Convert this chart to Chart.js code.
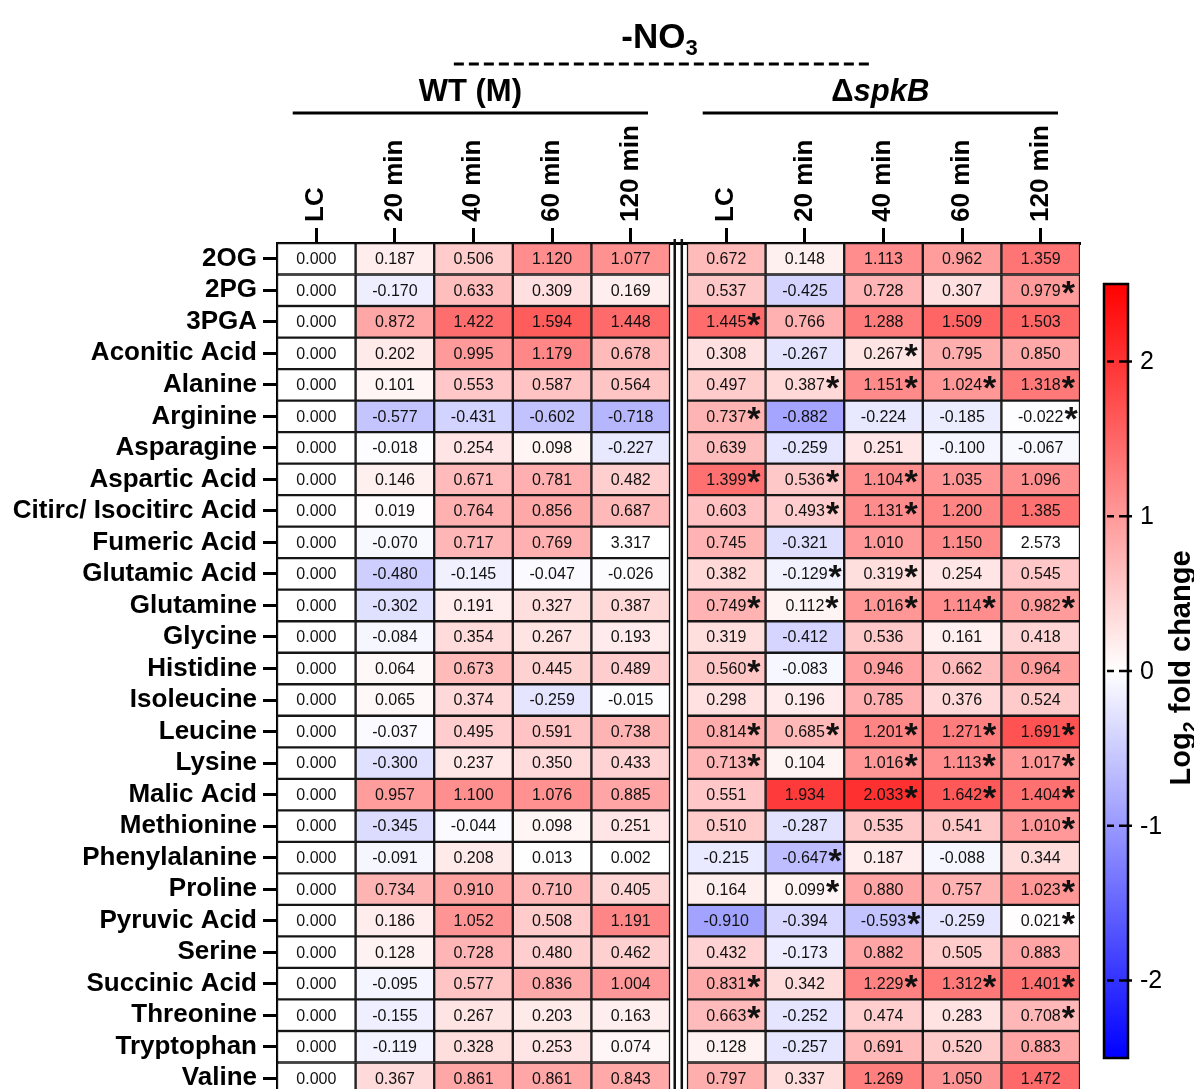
<!DOCTYPE html>
<html>
<head>
<meta charset="utf-8">
<title>-NO3 metabolite heatmap</title>
<script src="https://cdn.jsdelivr.net/npm/chart.js@4.4.1/dist/chart.umd.min.js"></script>
<style>
  html, body { margin: 0; padding: 0; background: #fff; overflow: hidden; }
  #wrap { position: relative; width: 1194px; height: 1100px; }
</style>
</head>
<body>
<div id="wrap"><canvas id="heat"></canvas></div>
<script>
/* rows (metabolites) and column headers */
const METABOLITES = [
  "2OG", "2PG", "3PGA", "Aconitic Acid", "Alanine", "Arginine", "Asparagine",
  "Aspartic Acid", "Citirc/ Isocitirc Acid", "Fumeric Acid", "Glutamic Acid",
  "Glutamine", "Glycine", "Histidine", "Isoleucine", "Leucine", "Lysine",
  "Malic Acid", "Methionine", "Phenylalanine", "Proline", "Pyruvic Acid",
  "Serine", "Succinic Acid", "Threonine", "Tryptophan", "Valine"
];
const COLUMNS = ["LC", "20 min", "40 min", "60 min", "120 min"];

/* log2 fold change, WT (M) */
const WT_LC  = [0.000, 0.000, 0.000, 0.000, 0.000, 0.000, 0.000, 0.000, 0.000, 0.000, 0.000, 0.000, 0.000, 0.000, 0.000, 0.000, 0.000, 0.000, 0.000, 0.000, 0.000, 0.000, 0.000, 0.000, 0.000, 0.000, 0.000];
const WT_20  = [0.187, -0.170, 0.872, 0.202, 0.101, -0.577, -0.018, 0.146, 0.019, -0.070, -0.480, -0.302, -0.084, 0.064, 0.065, -0.037, -0.300, 0.957, -0.345, -0.091, 0.734, 0.186, 0.128, -0.095, -0.155, -0.119, 0.367];
const WT_40  = [0.506, 0.633, 1.422, 0.995, 0.553, -0.431, 0.254, 0.671, 0.764, 0.717, -0.145, 0.191, 0.354, 0.673, 0.374, 0.495, 0.237, 1.100, -0.044, 0.208, 0.910, 1.052, 0.728, 0.577, 0.267, 0.328, 0.861];
const WT_60  = [1.120, 0.309, 1.594, 1.179, 0.587, -0.602, 0.098, 0.781, 0.856, 0.769, -0.047, 0.327, 0.267, 0.445, -0.259, 0.591, 0.350, 1.076, 0.098, 0.013, 0.710, 0.508, 0.480, 0.836, 0.203, 0.253, 0.861];
const WT_120 = [1.077, 0.169, 1.448, 0.678, 0.564, -0.718, -0.227, 0.482, 0.687, 3.317, -0.026, 0.387, 0.193, 0.489, -0.015, 0.738, 0.433, 0.885, 0.251, 0.002, 0.405, 1.191, 0.462, 1.004, 0.163, 0.074, 0.843];

/* log2 fold change, spkB deletion */
const KO_LC  = [0.672, 0.537, 1.445, 0.308, 0.497, 0.737, 0.639, 1.399, 0.603, 0.745, 0.382, 0.749, 0.319, 0.560, 0.298, 0.814, 0.713, 0.551, 0.510, -0.215, 0.164, -0.910, 0.432, 0.831, 0.663, 0.128, 0.797];
const KO_20  = [0.148, -0.425, 0.766, -0.267, 0.387, -0.882, -0.259, 0.536, 0.493, -0.321, -0.129, 0.112, -0.412, -0.083, 0.196, 0.685, 0.104, 1.934, -0.287, -0.647, 0.099, -0.394, -0.173, 0.342, -0.252, -0.257, 0.337];
const KO_40  = [1.113, 0.728, 1.288, 0.267, 1.151, -0.224, 0.251, 1.104, 1.131, 1.010, 0.319, 1.016, 0.536, 0.946, 0.785, 1.201, 1.016, 2.033, 0.535, 0.187, 0.880, -0.593, 0.882, 1.229, 0.474, 0.691, 1.269];
const KO_60  = [0.962, 0.307, 1.509, 0.795, 1.024, -0.185, -0.100, 1.035, 1.200, 1.150, 0.254, 1.114, 0.161, 0.662, 0.376, 1.271, 1.113, 1.642, 0.541, -0.088, 0.757, -0.259, 0.505, 1.312, 0.283, 0.520, 1.050];
const KO_120 = [1.359, 0.979, 1.503, 0.850, 1.318, -0.022, -0.067, 1.096, 1.385, 2.573, 0.545, 0.982, 0.418, 0.964, 0.524, 1.691, 1.017, 1.404, 1.010, 0.344, 1.023, 0.021, 0.883, 1.401, 0.708, 0.883, 1.472];

/* significance marks (1 = asterisk) for the spkB columns */
const SIG_LC  = [0,0,1,0,0,1,0,1,0,0,0,1,0,1,0,1,1,0,0,0,0,0,0,1,1,0,0];
const SIG_20  = [0,0,0,0,1,0,0,1,1,0,1,1,0,0,0,1,0,0,0,1,1,0,0,0,0,0,0];
const SIG_40  = [0,0,0,1,1,0,0,1,1,0,1,1,0,0,0,1,1,1,0,0,0,1,0,1,0,0,0];
const SIG_60  = [0,0,0,0,1,0,0,0,0,0,0,1,0,0,0,1,1,1,0,0,0,0,0,1,0,0,0];
const SIG_120 = [0,1,0,0,1,1,0,0,0,0,0,1,0,0,0,1,1,1,1,0,1,1,0,1,1,0,0];

/* colour scale limits and colour bar ticks */
const RANGE = 2.5;
const CB_TICKS = [2, 1, 0, -1, -2];

const FONT = '"Liberation Sans", Arial, Helvetica, sans-serif';
const GAP = 0.216;   // space between the two blocks, in column units

const BLOCKS = [
  { title: [{ t: "WT (M)" }], offset: 0,
    series: [WT_LC, WT_20, WT_40, WT_60, WT_120], stars: null },
  { title: [{ t: "\u0394" }, { t: "spkB", italic: true }], offset: 5 + GAP,
    series: [KO_LC, KO_20, KO_40, KO_60, KO_120],
    stars: [SIG_LC, SIG_20, SIG_40, SIG_60, SIG_120] }
];

function cellColor(v){
  if (Math.abs(v) > RANGE) return "#ffffff";   // off-scale values stay blank
  const t = Math.abs(v) / RANGE;
  const c = Math.round(255 * (1 - t));
  return v >= 0 ? `rgb(255,${c},${c})` : `rgb(${c},${c},255)`;
}

// one floating-bar dataset per column: each bar spans one column
const datasets = [];
const TICK_POS = [];
BLOCKS.forEach(b => b.series.forEach((vals, i) => {
  const x0 = b.offset + i;
  TICK_POS.push(x0 + 0.5);
  datasets.push({
    label: COLUMNS[i],
    data: vals.map(() => [x0, x0 + 1]),
    values: vals,
    stars: b.stars ? b.stars[i] : null,
    backgroundColor: vals.map(cellColor),
    borderColor: "#161616",
    borderWidth: 1.5,
    borderSkipped: false,
    grouped: false,
    barPercentage: 1,
    categoryPercentage: 1
  });
}));

// draws a line of text made of styled runs, centred on cx
function drawRuns(ctx, runs, cx, baseline, size){
  const fontOf = r => `${r.italic ? "italic " : ""}bold ${r.size || size}px ${FONT}`;
  let total = 0;
  runs.forEach(r => { ctx.font = fontOf(r); total += ctx.measureText(r.t).width; });
  let x = cx - total / 2;
  ctx.textAlign = "left";
  ctx.textBaseline = "alphabetic";
  runs.forEach(r => {
    ctx.font = fontOf(r);
    ctx.fillText(r.t, x, baseline + (r.dy || 0));
    x += ctx.measureText(r.t).width;
  });
}

const cellText = {
  id: "cellText",
  afterDatasetsDraw(chart){
    const ctx = chart.ctx;
    ctx.save();
    ctx.fillStyle = "#111";
    chart.data.datasets.forEach((ds, di) => {
      chart.getDatasetMeta(di).data.forEach((bar, j) => {
        const p = bar.getProps(["x", "y", "base"], true);
        const cx = (p.x + p.base) / 2;
        const txt = ds.values[j].toFixed(3);
        ctx.font = `16px ${FONT}`;
        ctx.textAlign = "center";
        ctx.textBaseline = "middle";
        ctx.fillText(txt, cx, p.y + 1);
        if (ds.stars && ds.stars[j]) {
          const w = ctx.measureText(txt).width;
          ctx.font = `bold 34px ${FONT}`;
          ctx.textAlign = "left";
          ctx.textBaseline = "alphabetic";
          ctx.fillText("*", cx + w / 2 + 1, p.y + 14);
        }
      });
    });
    // double rule between the two blocks
    const xs = chart.scales.x, area = chart.chartArea;
    ctx.strokeStyle = "#111";
    ctx.lineWidth = 2.5;
    [5.06, 5.15].forEach(v => {
      const x = xs.getPixelForValue(v);
      ctx.beginPath();
      ctx.moveTo(x, area.top - 4);
      ctx.lineTo(x, area.bottom);
      ctx.stroke();
    });
    ctx.restore();
  }
};

const headers = {
  id: "headers",
  afterDraw(chart){
    const ctx = chart.ctx, xs = chart.scales.x;
    const px = v => xs.getPixelForValue(v);
    ctx.save();
    ctx.fillStyle = "#000";
    ctx.strokeStyle = "#000";
    ctx.lineWidth = 3;

    BLOCKS.forEach(b => {
      const x0 = px(b.offset + 0.2), x1 = px(b.offset + 4.72);
      ctx.beginPath(); ctx.moveTo(x0, 113); ctx.lineTo(x1, 113); ctx.stroke();
      drawRuns(ctx, b.title, (x0 + x1) / 2, 101, 31);
    });

    // treatment label over both blocks, dashed rule
    const d0 = px(2.25), d1 = px(7.56);
    ctx.setLineDash([10, 5]);
    ctx.beginPath(); ctx.moveTo(d0, 64); ctx.lineTo(d1, 64); ctx.stroke();
    ctx.setLineDash([]);
    drawRuns(ctx, [{ t: "-NO" }, { t: "3", size: 22, dy: 7 }], (d0 + d1) / 2 - 3, 48, 35);
    ctx.restore();
  }
};

const colorBar = {
  id: "colorBar",
  afterDraw(chart){
    const ctx = chart.ctx;
    const left = 1104, width = 24, top = 284, bottom = 1058;
    const yOf = v => top + (RANGE - v) / (2 * RANGE) * (bottom - top);
    ctx.save();
    const g = ctx.createLinearGradient(0, top, 0, bottom);
    g.addColorStop(0, cellColor(RANGE));
    g.addColorStop(0.5, cellColor(0));
    g.addColorStop(1, cellColor(-RANGE));
    ctx.fillStyle = g;
    ctx.fillRect(left, top, width, bottom - top);
    ctx.strokeStyle = "#000";
    ctx.lineWidth = 2.5;
    ctx.strokeRect(left, top, width, bottom - top);

    ctx.fillStyle = "#000";
    ctx.font = `25px ${FONT}`;
    ctx.textAlign = "left";
    ctx.textBaseline = "middle";
    CB_TICKS.forEach(v => {
      const y = yOf(v);
      ctx.beginPath();
      ctx.moveTo(left + 3, y); ctx.lineTo(left + 10, y);
      ctx.moveTo(left + 15, y); ctx.lineTo(left + 28, y);
      ctx.stroke();
      ctx.fillText(String(v), left + 36, y + 1);
    });

    ctx.translate(1190, yOf(0) - 3);
    ctx.rotate(-Math.PI / 2);
    drawRuns(ctx, [{ t: "Log" }, { t: "2", size: 20, dy: 7 }, { t: " fold change" }], 0, 0, 29);
    ctx.restore();
  }
};

new Chart(document.getElementById("heat"), {
  type: "bar",
  data: { labels: METABOLITES, datasets },
  plugins: [cellText, headers, colorBar],
  options: {
    indexAxis: "y",
    responsive: true,
    maintainAspectRatio: false,
    animation: false,
    layout: { padding: { left: 0, top: 0, right: 114, bottom: 6 } },
    plugins: { legend: { display: false }, tooltip: { enabled: false } },
    scales: {
      x: {
        type: "linear",
        position: "top",
        min: 0,
        max: 10 + GAP,
        afterBuildTicks: s => { s.ticks = TICK_POS.map(v => ({ value: v })); },
        afterFit: s => { s.height = 243; s.paddingLeft = 0; s.paddingRight = 0; },
        ticks: {
          autoSkip: false,
          minRotation: 90,
          maxRotation: 90,
          padding: 6,
          labelOffset: 31,
          color: "#000",
          font: { family: FONT, size: 26, weight: "bold" },
          callback: (v, i) => COLUMNS[i % COLUMNS.length]
        },
        grid: { drawOnChartArea: false, drawTicks: true, tickLength: 15, tickWidth: 3, tickColor: "#000" },
        border: { display: true, color: "#000", width: 3 }
      },
      y: {
        type: "category",
        position: "left",
        offset: true,
        afterFit: s => { s.width = 277; s.paddingTop = 0; s.paddingBottom = 0; },
        ticks: {
          autoSkip: false,
          padding: 6,
          color: "#000",
          font: { family: FONT, size: 26, weight: "bold" }
        },
        grid: { offset: false, drawOnChartArea: false, drawTicks: true, tickLength: 14, tickWidth: 3, tickColor: "#000" },
        border: { display: true, color: "#000", width: 3 }
      }
    }
  }
});
</script>
</body>
</html>
